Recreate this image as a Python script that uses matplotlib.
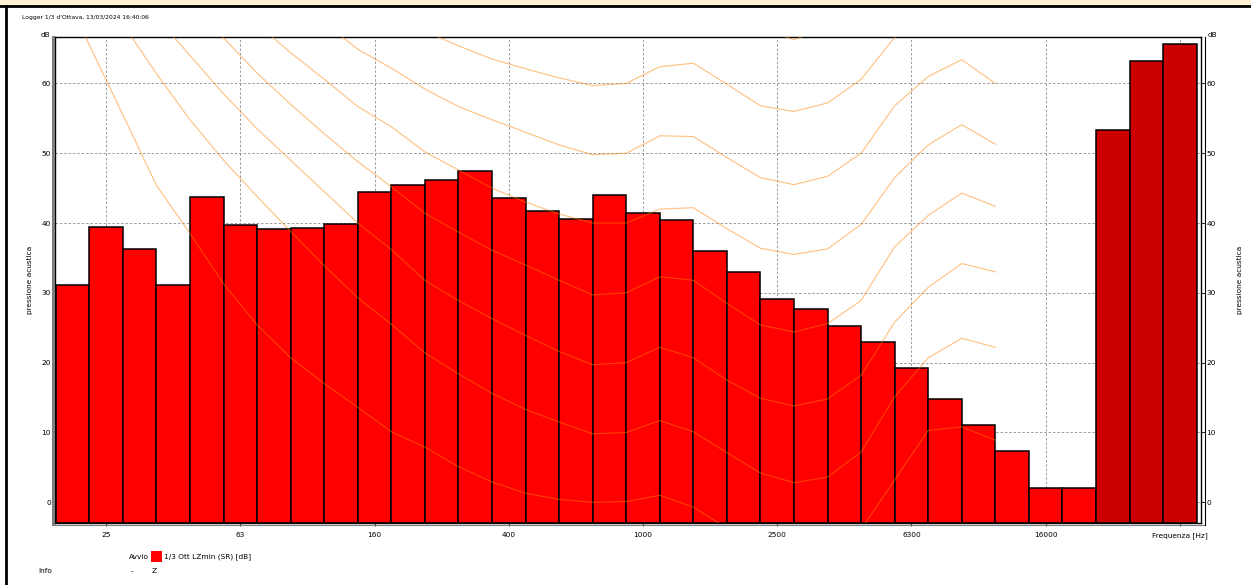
import matplotlib
matplotlib.use('Agg')
import matplotlib.pyplot as plt
from matplotlib.lines import Line2D
from matplotlib.patches import Rectangle
import numpy as np

# ---------------- data ----------------
bands = ['20', '25', '31.5', '40', '50', '63', '80', '100', '125', '160', '200', '250',
         '315', '400', '500', '630', '800', '1000', '1250', '1600', '2000', '2500',
         '3150', '4000', '5000', '6300', '8000', '10000', '12500', '16000', '20000',
         'A', 'C', 'Z']
levels = [31.1, 39.4, 36.3, 31.1, 43.7, 39.7, 39.1, 39.3, 39.9, 44.4, 45.5, 46.2,
          47.5, 43.6, 41.7, 40.6, 44.0, 41.4, 40.4, 36.0, 33.0, 29.1, 27.7, 25.3,
          22.9, 19.3, 14.8, 11.1, 7.4, 2.0, 2.0, 53.4, 63.2, 65.7]
n_weighted = 3  # last three bars (overall values) drawn darker

tick_labels = ['25', '63', '160', '400', '1000', '2500', '6300', '16000', 'Frequenza [Hz]']
tick_bands = ['25', '63', '160', '400', '1000', '2500', '6300', '16000', 'Z']

# equal-loudness curves (20 Hz .. 12.5 kHz)
curve_0 = [76.0, 65.5, 55.5, 45.4, 38.5, 31.3, 25.4, 20.7, 17.0, 13.6, 10.1, 7.9, 5.1, 2.9,
           1.3, 0.4, 0.0, 0.1, 1.0, -0.7, -3.7, -6.6, -8.0, -7.2, -3.9, 3.2, 10.3, 10.8, 8.9]
curve_10 = [84.0, 76.0, 68.5, 61.4, 54.8, 49.0, 43.8, 38.8, 33.9, 29.3, 25.5, 21.4, 18.4, 15.6,
            13.3, 11.5, 9.8, 10.0, 11.7, 10.1, 7.1, 4.2, 2.8, 3.6, 7.2, 15.1, 20.7, 23.5, 22.2]
curve_20 = [90.0, 83.0, 76.0, 69.5, 64.0, 58.5, 53.5, 49.0, 44.5, 40.0, 36.2, 31.8, 28.9, 26.3,
            23.9, 21.6, 19.7, 20.0, 22.2, 20.7, 17.5, 14.9, 13.8, 14.8, 18.2, 25.8, 30.8, 34.2, 33.0]
curve_30 = [96.0, 89.0, 82.5, 76.5, 71.5, 66.5, 61.5, 57.0, 52.8, 48.8, 45.2, 41.4, 38.7, 36.1,
            34.0, 31.8, 29.7, 30.0, 32.3, 31.8, 28.5, 25.4, 24.4, 25.6, 28.9, 36.6, 41.1, 44.3, 42.4]
curve_40 = [99.9, 93.9, 88.2, 82.6, 77.8, 73.1, 68.5, 64.4, 60.6, 56.7, 53.8, 50.2, 47.6, 45.0,
            43.0, 41.3, 40.0, 40.0, 42.0, 42.2, 39.2, 36.4, 35.5, 36.3, 39.8, 46.5, 51.2, 54.1, 51.3]
curve_50 = [104.0, 99.0, 93.9, 88.9, 84.2, 79.7, 75.5, 71.9, 68.7, 64.9, 62.2, 59.2, 56.7, 54.8,
            53.0, 51.2, 49.8, 50.0, 52.5, 52.4, 49.4, 46.5, 45.5, 46.7, 50.0, 56.8, 61.0, 63.4, 60.0]
curve_60 = [109.5, 104.2, 99.1, 94.2, 90.0, 85.9, 82.1, 78.7, 75.6, 72.5, 69.9, 67.5, 65.4, 63.5,
            62.1, 60.8, 59.7, 60.0, 62.4, 62.9, 59.9, 56.8, 56.0, 57.2, 60.6, 66.6, 71.7, 73.5, 68.4]
curve_70 = [113.0, 108.5, 104.0, 99.5, 95.5, 92.0, 88.5, 85.2, 82.5, 79.8, 77.5, 75.2, 73.5, 71.8,
            71.0, 70.5, 69.8, 70.0, 72.5, 73.5, 70.3, 67.8, 66.3, 67.9, 71.2, 76.5, 81.5, 83.0, 78.5]
curves = [curve_0, curve_10, curve_20, curve_30, curve_40, curve_50, curve_60, curve_70]

y_ticks = [0, 10, 20, 30, 40, 50, 60]
YMIN, YMAX = -2.9, 66.7

# ---------------- figure ----------------
W, H = 1251, 585
fig = plt.figure(figsize=(W / 100, H / 100), dpi=100)
fig.patch.set_facecolor('white')


def fx(px):
    return px / W


def fy(py):
    return 1 - py / H


FONT = 'DejaVu Sans'
fs = 5.3

# frame decoration
fig.add_artist(Rectangle((0, fy(6)), 1, 6 / H, transform=fig.transFigure,
                         facecolor='#FFF3D2', edgecolor='none'))
fig.add_artist(Line2D([0, 1], [fy(6), fy(6)], transform=fig.transFigure, color='black', lw=2))
fig.add_artist(Line2D([fx(6), fx(6)], [0, fy(6)], transform=fig.transFigure, color='black', lw=2))

ax = fig.add_axes([fx(55), fy(522.5), fx(1201) - fx(55), fy(36.7) - fy(522.5)])
n = len(levels)
x = np.arange(n)
colors = ['#FF0000'] * (n - n_weighted) + ['#CC0000'] * n_weighted
ax.bar(x, np.array(levels) - YMIN, bottom=YMIN, width=1.0, align='edge',
       color=colors, edgecolor='black', linewidth=1.1, zorder=2)

for c in curves:
    ax.plot(np.arange(len(c)), c, color='#FF8000', alpha=0.5, lw=0.8, zorder=3)

ax.set_xlim(-0.024, n + 0.13)
ax.set_ylim(YMIN, YMAX)

tick_pos = [bands.index(b) + 0.5 for b in tick_bands]
ax.set_xticks(tick_pos)
ax.set_xticklabels(tick_labels, fontsize=fs, family=FONT)
ax.set_yticks(y_ticks)
ax.set_yticklabels([str(v) for v in y_ticks], fontsize=fs, family=FONT)
ax.tick_params(axis='x', length=2, pad=5, width=0.6)
ax.tick_params(axis='y', length=2, pad=1, width=0.6)
ax.grid(True, color='#9a9a9a', linestyle=(0, (2.5, 2)), lw=0.7, zorder=0)
ax.set_axisbelow(True)
for s in ax.spines.values():
    s.set_linewidth(1.0)

ax2 = ax.twinx()
ax2.set_ylim(YMIN, YMAX)
ax2.set_yticks(y_ticks)
ax2.set_yticklabels([str(v) for v in y_ticks], fontsize=fs, family=FONT)
ax2.tick_params(axis='y', length=3, pad=1, width=0.6)
for s in ax2.spines.values():
    s.set_visible(False)

# double lines of the axis frame
fig.add_artist(Line2D([fx(52.5), fx(52.5)], [fy(37), fy(524)], transform=fig.transFigure,
                      color='#7f7f7f', lw=2.2))
fig.add_artist(Line2D([fx(55), fx(1205)], [fy(525), fy(525)], transform=fig.transFigure,
                      color='#7f7f7f', lw=0.8))
fig.add_artist(Line2D([fx(1205), fx(1205)], [fy(37), fy(525)], transform=fig.transFigure,
                      color='black', lw=0.8))

# texts
fig.text(fx(22), fy(18), "Logger 1/3 d'Ottava, 13/03/2024 16:40:06", fontsize=4.3,
         family=FONT, va='center', ha='left')
fig.text(fx(50), fy(35), 'dB', fontsize=fs, family=FONT, ha='right', va='center')
fig.text(fx(1208), fy(35), 'dB', fontsize=fs, family=FONT, ha='left', va='center')
fig.text(fx(30), fy(280), 'pressione acustica', fontsize=fs, family=FONT, rotation=90,
         ha='center', va='center')
fig.text(fx(1240), fy(280), 'pressione acustica', fontsize=fs, family=FONT, rotation=90,
         ha='center', va='center')

# legend
fig.add_artist(Rectangle((fx(151), fy(562)), 11 / W, 11.5 / H, transform=fig.transFigure,
                         facecolor='#FF0000', edgecolor='none'))
fig.text(fx(149), fy(557), 'Avvio', fontsize=fs, family=FONT, ha='right', va='center')
fig.text(fx(164), fy(557), '1/3 Ott LZmin (SR) [dB]', fontsize=fs, family=FONT,
         ha='left', va='center')
fig.text(fx(38), fy(571), 'Info', fontsize=fs, family=FONT, ha='left', va='center')
fig.text(fx(131), fy(571), '-', fontsize=fs, family=FONT, ha='left', va='center')
fig.text(fx(152), fy(571), 'Z', fontsize=fs, family=FONT, ha='left', va='center')

fig.savefig('out.png', dpi=100)
